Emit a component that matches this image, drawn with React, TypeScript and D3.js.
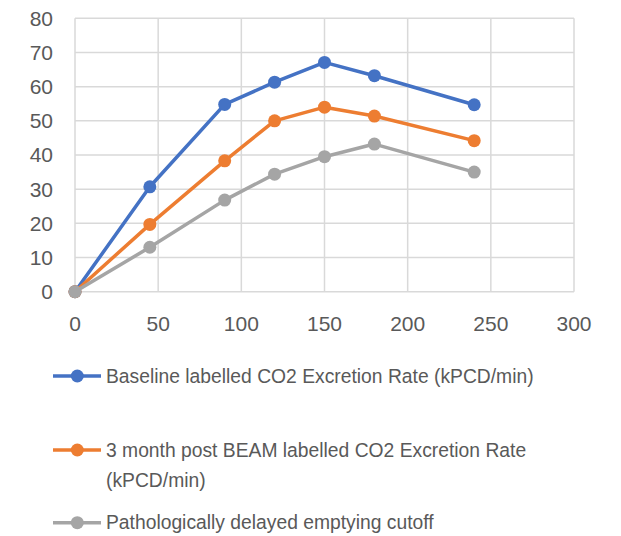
import React from 'react';
import * as d3 from 'd3';

const minutes = [0, 45, 90, 120, 150, 180, 240];
const baseline = [0, 30.7, 54.8, 61.3, 67.1, 63.2, 54.7];
const postBeam = [0, 19.7, 38.3, 50, 54, 51.4, 44.2];
const cutoff = [0, 13, 26.8, 34.4, 39.5, 43.2, 35];
const xTicks = [0, 50, 100, 150, 200, 250, 300];
const yTicks = [0, 10, 20, 30, 40, 50, 60, 70, 80];

const series = [
  { name: 'Baseline labelled CO2 Excretion Rate (kPCD/min)', lines: ['Baseline labelled CO2 Excretion Rate (kPCD/min)'], values: baseline, color: '#4472C4' },
  { name: '3 month post BEAM labelled CO2 Excretion Rate (kPCD/min)', lines: ['3 month post BEAM labelled CO2 Excretion Rate', '(kPCD/min)'], values: postBeam, color: '#ED7D31' },
  { name: 'Pathologically delayed emptying cutoff', lines: ['Pathologically delayed emptying cutoff'], values: cutoff, color: '#A5A5A5' },
];

const W = 621;
const H = 536;
const margin = { top: 18.3, right: 47, bottom: 244.3, left: 75 };
const font = '"Liberation Sans", Arial, sans-serif';

export default function App() {
  const innerW = W - margin.left - margin.right;
  const innerH = H - margin.top - margin.bottom;
  const x = d3.scaleLinear().domain([0, 300]).range([0, innerW]);
  const y = d3.scaleLinear().domain([0, 80]).range([innerH, 0]);
  const line = d3.line<number>().x((_, i) => x(minutes[i])).y(d => y(d));

  const legendRows = [376, 450, 522.7];

  return (
    <svg width={W} height={H} style={{ position: 'absolute', left: 0, top: 0, background: '#fff' }}>
      <g transform={`translate(${margin.left},${margin.top})`}>
        {/* grid */}
        {yTicks.map(t => (
          <line key={`y${t}`} x1={0} x2={innerW} y1={y(t)} y2={y(t)} stroke="#d9d9d9" strokeWidth={1.5} />
        ))}
        {xTicks.map(t => (
          <line key={`x${t}`} x1={x(t)} x2={x(t)} y1={0} y2={innerH} stroke="#d9d9d9" strokeWidth={1.5} />
        ))}
        {/* tick labels */}
        {yTicks.map(t => (
          <text key={`yl${t}`} x={-22} y={y(t)} dy="0.35em" textAnchor="end" fontSize={21} fill="#595959" fontFamily={font}>{t}</text>
        ))}
        {xTicks.map(t => (
          <text key={`xl${t}`} x={x(t)} y={innerH + 32} dy="0.35em" textAnchor="middle" fontSize={21} fill="#595959" fontFamily={font}>{t}</text>
        ))}
        {/* series */}
        {series.map(s => (
          <g key={s.name}>
            <path d={line(s.values) ?? ''} fill="none" stroke={s.color} strokeWidth={3.5} strokeLinejoin="round" />
            {s.values.map((v, i) => (
              <circle key={i} cx={x(minutes[i])} cy={y(v)} r={6.5} fill={s.color} />
            ))}
          </g>
        ))}
      </g>
      {/* legend */}
      {series.map((s, k) => (
        <g key={`lg${k}`} transform={`translate(0,${legendRows[k]})`}>
          <line x1={53} x2={101} y1={0} y2={0} stroke={s.color} strokeWidth={3.5} />
          <circle cx={77.3} cy={0} r={6.5} fill={s.color} />
          {s.lines.map((l, j) => (
            <text key={j} x={106} y={j * 30} dy="0.35em" fontSize={19.3} fill="#595959" fontFamily={font}>{l}</text>
          ))}
        </g>
      ))}
    </svg>
  );
}
